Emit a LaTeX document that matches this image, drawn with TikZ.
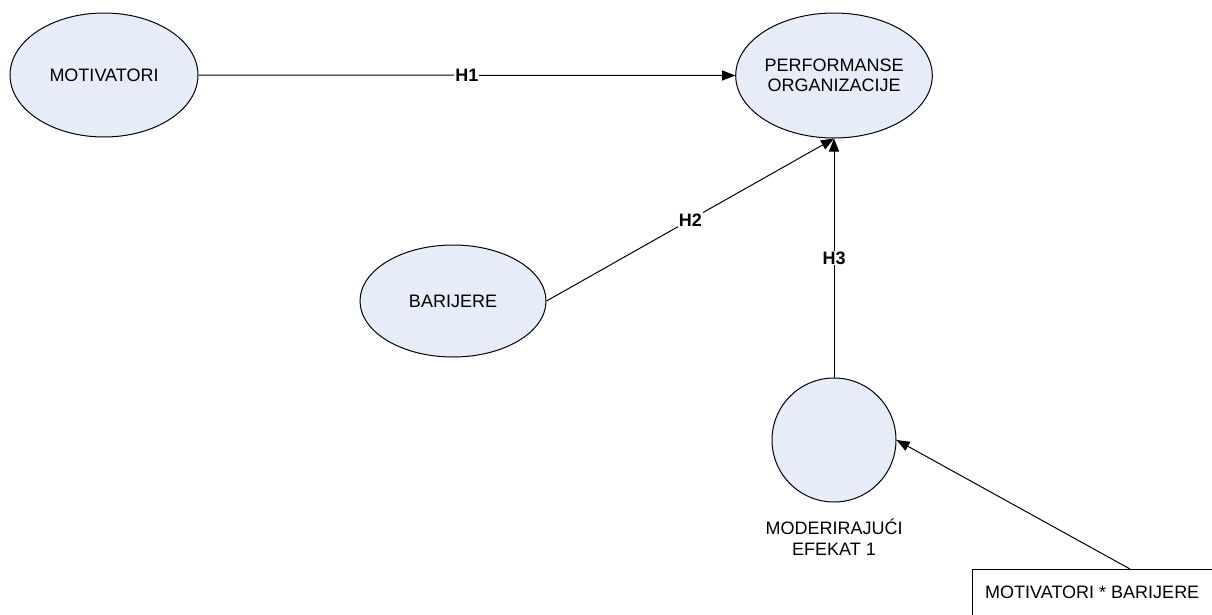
\documentclass[tikz,border=0pt]{standalone}
\usepackage{fontspec}
\setmainfont{Liberation Sans}
\usetikzlibrary{shapes.geometric,arrows.meta}
\definecolor{bubble}{RGB}{230,236,248}
\begin{document}
\begin{tikzpicture}[x=1pt,y=-1pt,
  every node/.style={font=\fontsize{18}{20.5}\selectfont},
  construct/.style={ellipse,draw=black,line width=1pt,fill=bubble,inner sep=0pt,align=center},
  link/.style={line width=1pt,-{Triangle[length=13pt,width=10pt]}},
  hyp/.style={fill=white,inner sep=1pt,font=\fontsize{18}{20}\selectfont\bfseries}]
\useasboundingbox (0,0) rectangle (1212,614);
\clip (0,0) rectangle (1212,614);

% latent constructs
\node[construct,minimum width=188pt,minimum height=124pt] (mot) at (104,75) {MOTIVATORI};
\node[construct,minimum width=190pt,minimum height=125pt] (perf) at (834,75.5) {PERFORMANSE\\ORGANIZACIJE};
\node[construct,minimum width=186pt,minimum height=112pt] (bar) at (453,301) {BARIJERE};
\node[construct,circle,minimum size=124pt] (mod) at (834,440) {};
\node[align=center,inner sep=0pt] (modlbl) at (834,537) {MODERIRAJUĆI\\EFEKAT 1};

% interaction indicator
\node[draw=black,line width=1pt,rectangle,anchor=north west,minimum width=250pt,minimum height=52pt] (ind) at (972,569) {};
\node[anchor=west,inner sep=0pt] (indtxt) at (985,592) {MOTIVATORI * BARIJERE};
\coordinate (indtop) at (1130,569);

% hypothesised paths
\draw[link] (mot.east) -- node[hyp] {H1} (perf.west);
\draw[link] (bar.east) -- node[hyp] {H2} (perf.south);
\draw[link] (mod.north) -- node[hyp] {H3} (perf.south);
\draw[link] (indtop) -- (mod.east);
\end{tikzpicture}
\end{document}
